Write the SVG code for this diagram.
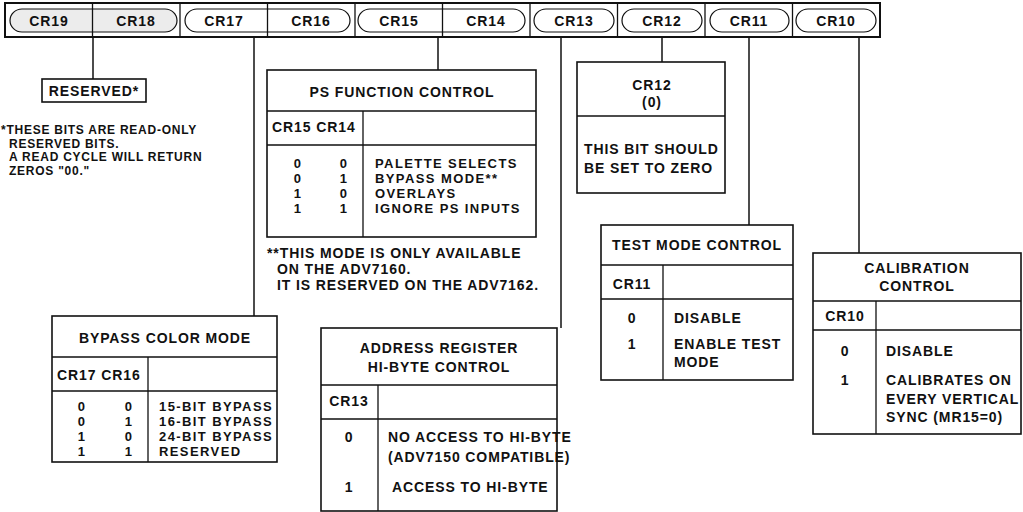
<svg xmlns="http://www.w3.org/2000/svg" width="1023" height="512" viewBox="0 0 1023 512">
<style>
text{font-family:"Liberation Sans",Arial,sans-serif;font-weight:bold;font-size:14px;letter-spacing:0.9px;fill:#111}
.s{font-size:12px;letter-spacing:0.75px}
.r{font-size:13px;letter-spacing:1.4px}
.m{text-anchor:middle}
.box{fill:#fff;stroke:#111;stroke-width:1.6}
.ln{stroke:#111;stroke-width:1.3;fill:none}
.pill{fill:#fff;stroke:#111;stroke-width:1.2}
.g{fill:#ececec}
.conn line{stroke:#111;stroke-width:1.5}
</style>
<rect x="0" y="0" width="1023" height="512" fill="#fff"/>
<g id="register">
<rect x="5" y="3" width="875" height="34" fill="#fff" stroke="#111" stroke-width="2"/>
<rect class="pill g" x="10" y="9" width="167" height="23" rx="12" ry="11.5"/>
<rect class="pill" x="185" y="9" width="165" height="23" rx="12" ry="11.5"/>
<rect class="pill" x="358" y="9" width="167" height="23" rx="12" ry="11.5"/>
<rect class="pill" x="534" y="9" width="80" height="23" rx="12" ry="11.5"/>
<rect class="pill" x="622" y="9" width="80" height="23" rx="12" ry="11.5"/>
<rect class="pill" x="710" y="9" width="79" height="23" rx="12" ry="11.5"/>
<rect class="pill" x="796" y="9" width="80" height="23" rx="12" ry="11.5"/>
<g class="ln">
<line x1="92.5" y1="3" x2="92.5" y2="37"/><line x1="180" y1="3" x2="180" y2="37"/><line x1="267.5" y1="3" x2="267.5" y2="37"/>
<line x1="355" y1="3" x2="355" y2="37"/><line x1="442.5" y1="3" x2="442.5" y2="37"/><line x1="530" y1="3" x2="530" y2="37"/>
<line x1="617.5" y1="3" x2="617.5" y2="37"/><line x1="705" y1="3" x2="705" y2="37"/><line x1="792.5" y1="3" x2="792.5" y2="37"/>
</g>
<text class="m" x="49" y="26">CR19</text><text class="m" x="136" y="26">CR18</text>
<text class="m" x="224" y="26">CR17</text><text class="m" x="311" y="26">CR16</text>
<text class="m" x="399" y="26">CR15</text><text class="m" x="486" y="26">CR14</text>
<text class="m" x="574" y="26">CR13</text><text class="m" x="662" y="26">CR12</text>
<text class="m" x="749" y="26">CR11</text><text class="m" x="836" y="26">CR10</text>
</g>
<g id="connectors" class="conn">
<line x1="93" y1="37" x2="93" y2="79"/>
<line x1="254" y1="37" x2="254" y2="316"/>
<line x1="438" y1="37" x2="438" y2="70"/>
<line x1="561" y1="37" x2="561" y2="328"/>
<line x1="662" y1="37" x2="662" y2="62"/>
<line x1="749" y1="37" x2="749" y2="225"/>
<line x1="859" y1="37" x2="859" y2="253"/>
</g>
<g id="reserved">
<rect class="box" x="42" y="79" width="104" height="23"/>
<text class="m" x="94" y="96">RESERVED*</text>
<text class="s" x="1" y="134">*THESE BITS ARE READ-ONLY</text>
<text class="s" x="9" y="147.5">RESERVED BITS.</text>
<text class="s" x="9" y="161">A READ CYCLE WILL RETURN</text>
<text class="s" x="9" y="174.5">ZEROS "00."</text>
</g>
<g id="ps-function">
<rect class="box" x="267" y="70" width="269" height="167"/>
<path class="ln" d="M267 111H536M267 145H536M363 111V237"/>
<text class="m" x="402" y="97">PS FUNCTION CONTROL</text>
<text x="272" y="132">CR15 CR14</text>
<text class="r m" x="298" y="168">0</text><text class="r m" x="344" y="168">0</text><text class="r" x="375" y="168">PALETTE SELECTS</text>
<text class="r m" x="298" y="183">0</text><text class="r m" x="344" y="183">1</text><text class="r" x="375" y="183">BYPASS MODE**</text>
<text class="r m" x="298" y="198">1</text><text class="r m" x="344" y="198">0</text><text class="r" x="375" y="198">OVERLAYS</text>
<text class="r m" x="298" y="213">1</text><text class="r m" x="344" y="213">1</text><text class="r" x="375" y="213">IGNORE PS INPUTS</text>
<text x="267" y="258">**THIS MODE IS ONLY AVAILABLE</text>
<text x="277" y="274">ON THE ADV7160.</text>
<text x="277" y="290">IT IS RESERVED ON THE ADV7162.</text>
</g>
<g id="cr12">
<rect class="box" x="577" y="62" width="148" height="131"/>
<path class="ln" d="M577 116H725"/>
<text class="m" x="652" y="90">CR12</text>
<text class="m" x="652" y="107">(0)</text>
<text x="584" y="154">THIS BIT SHOULD</text>
<text x="584" y="173">BE SET TO ZERO</text>
</g>
<g id="test-mode">
<rect class="box" x="601" y="225" width="192" height="155"/>
<path class="ln" d="M601 265H793M601 299H793M663 265V380"/>
<text class="m" x="697" y="250">TEST MODE CONTROL</text>
<text class="m" x="632" y="289">CR11</text>
<text class="m" x="632" y="323">0</text><text x="674" y="323">DISABLE</text>
<text class="m" x="632" y="349">1</text><text x="674" y="349">ENABLE TEST</text>
<text x="674" y="367">MODE</text>
</g>
<g id="calibration">
<rect class="box" x="813" y="253" width="208" height="181"/>
<path class="ln" d="M813 301H1021M813 330H1021M876 301V434"/>
<text class="m" x="917" y="273">CALIBRATION</text>
<text class="m" x="917" y="291">CONTROL</text>
<text class="m" x="845" y="321">CR10</text>
<text class="m" x="845" y="356">0</text><text x="886" y="356">DISABLE</text>
<text class="m" x="845" y="385">1</text><text x="886" y="385">CALIBRATES ON</text>
<text x="886" y="404">EVERY VERTICAL</text>
<text x="886" y="422">SYNC (MR15=0)</text>
</g>
<g id="bypass-color">
<rect class="box" x="52" y="316" width="225" height="146"/>
<path class="ln" d="M52 357H277M52 391H277M148 357V462"/>
<text class="m" x="165" y="343">BYPASS COLOR MODE</text>
<text x="57" y="380">CR17 CR16</text>
<text class="r m" x="82" y="411">0</text><text class="r m" x="129" y="411">0</text><text class="r" x="159" y="411">15-BIT BYPASS</text>
<text class="r m" x="82" y="426">0</text><text class="r m" x="129" y="426">1</text><text class="r" x="159" y="426">16-BIT BYPASS</text>
<text class="r m" x="82" y="441">1</text><text class="r m" x="129" y="441">0</text><text class="r" x="159" y="441">24-BIT BYPASS</text>
<text class="r m" x="82" y="456">1</text><text class="r m" x="129" y="456">1</text><text class="r" x="159" y="456">RESERVED</text>
</g>
<g id="address">
<rect class="box" x="321" y="328" width="236" height="183"/>
<path class="ln" d="M321 385H557M321 419H557M378 385V511"/>
<text class="m" x="439" y="353">ADDRESS REGISTER</text>
<text class="m" x="439" y="372">HI-BYTE CONTROL</text>
<text class="m" x="349" y="406">CR13</text>
<text class="m" x="349" y="442">0</text><text x="388" y="442">NO ACCESS TO HI-BYTE</text>
<text x="388" y="462">(ADV7150 COMPATIBLE)</text>
<text class="m" x="349" y="492">1</text><text x="392" y="492">ACCESS TO HI-BYTE</text>
</g>
</svg>
